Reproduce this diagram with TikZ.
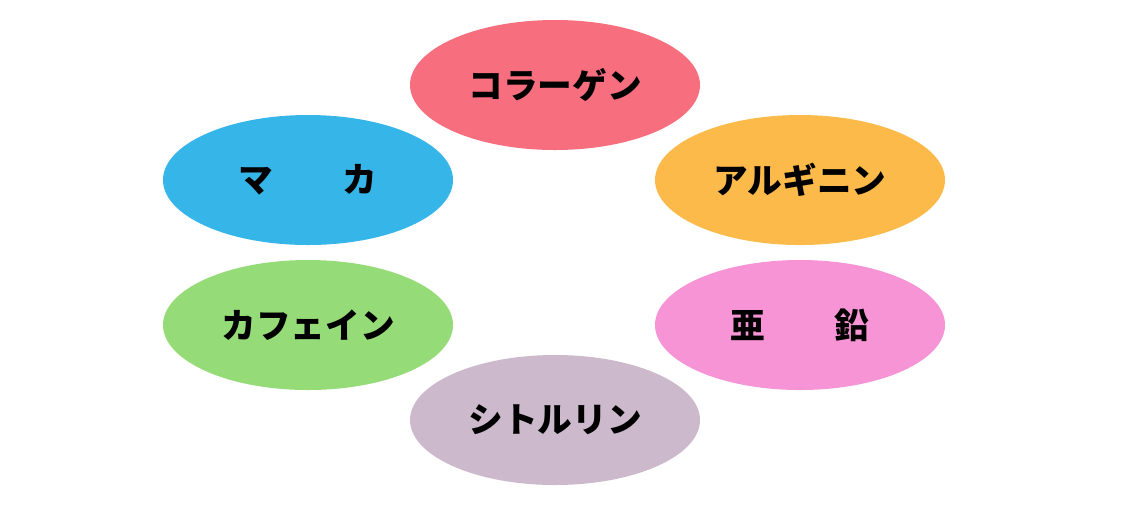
\documentclass[tikz,border=0pt]{standalone}
\usepackage{fontspec}
\newfontfamily\jpfont{Noto Sans CJK JP}
\usetikzlibrary{shapes.geometric}
\definecolor{collagen}{HTML}{F76F7F}
\definecolor{arginine}{HTML}{FCBA4B}
\definecolor{maca}{HTML}{35B5E8}
\definecolor{caffeine}{HTML}{95DB78}
\definecolor{zinc}{HTML}{F794D6}
\definecolor{citrulline}{HTML}{CDB9CC}

\begin{document}
\begin{tikzpicture}[x=0.75pt, y=-0.75pt,
    blob/.style={ellipse, inner sep=0pt, minimum width=217.5pt, minimum height=97.5pt,
      font=\jpfont\bfseries\fontsize{26}{30}\selectfont, text=black}]
    \useasboundingbox (0,0) rectangle (1123,512);
    \path (555,85) node[blob, fill=collagen] (collagen) {コラーゲン};
    \path (800,180) node[blob, fill=arginine] (arginine) {アルギニン};
    \path (308,180) node[blob, fill=maca] (maca) {マ　　カ};
    \path (308,325) node[blob, fill=caffeine] (caffeine) {カフェイン};
    \path (800,325) node[blob, fill=zinc] (zinc) {亜　　鉛};
    \path (555,420) node[blob, fill=citrulline] (citrulline) {シトルリン};
\end{tikzpicture}
\end{document}
